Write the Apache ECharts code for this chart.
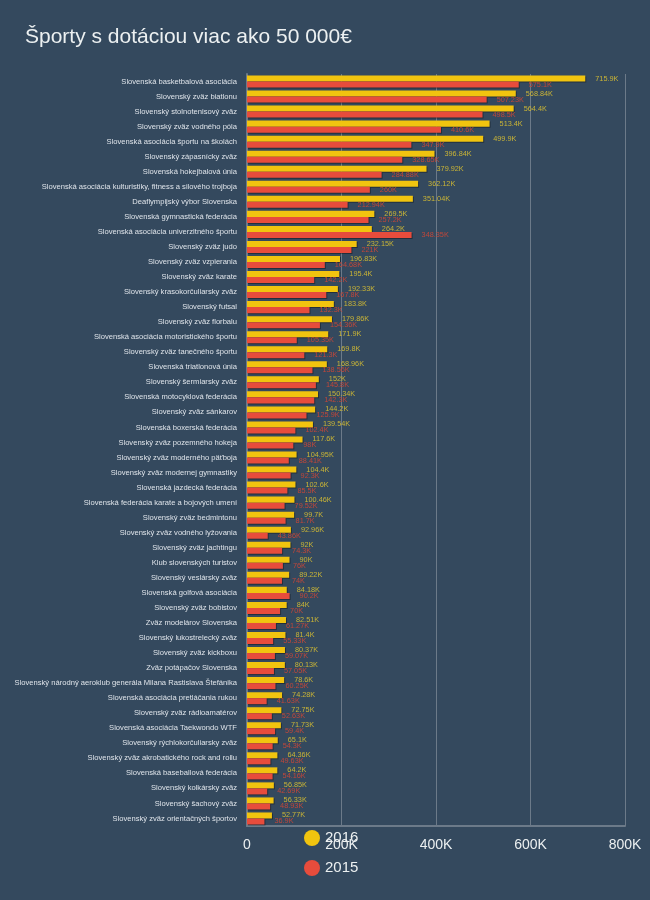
<!DOCTYPE html>
<html>
<head>
<meta charset="utf-8">
<script src="https://cdn.jsdelivr.net/npm/echarts@6/dist/echarts.min.js"></script>
<style>
  html, body { margin: 0; padding: 0; background: #34495e; }
  #chart { width: 650px; height: 900px; }
</style>
</head>
<body>
<div id="chart"></div>
<script>
// zväzy
const zvazy = [
  'Slovenská basketbalová asociácia',
  'Slovenský zväz biatlonu',
  'Slovenský stolnotenisový zväz',
  'Slovenský zväz vodného póla',
  'Slovenská asociácia športu na školách',
  'Slovenský zápasnícky zväz',
  'Slovenská hokejbalová únia',
  'Slovenská asociácia kulturistiky, fitness a silového trojboja',
  'Deaflympijský výbor Slovenska',
  'Slovenská gymnastická federácia',
  'Slovenská asociácia univerzitného športu',
  'Slovenský zväz judo',
  'Slovenský zväz vzpierania',
  'Slovenský zväz karate',
  'Slovenský krasokorčuliarsky zväz',
  'Slovenský futsal',
  'Slovenský zväz florbalu',
  'Slovenská asociácia motoristického športu',
  'Slovenský zväz tanečného športu',
  'Slovenská triatlonová únia',
  'Slovenský šermiarsky zväz',
  'Slovenská motocyklová federácia',
  'Slovenský zväz sánkarov',
  'Slovenská boxerská federácia',
  'Slovenský zväz pozemného hokeja',
  'Slovenský zväz moderného päťboja',
  'Slovenský zväz modernej gymnastiky',
  'Slovenská jazdecká federácia',
  'Slovenská federácia karate a bojových umení',
  'Slovenský zväz bedmintonu',
  'Slovenský zväz vodného lyžovania',
  'Slovenský zväz jachtingu',
  'Klub slovenských turistov',
  'Slovenský veslársky zväz',
  'Slovenská golfová asociácia',
  'Slovenský zväz bobistov',
  'Zväz modelárov Slovenska',
  'Slovenský lukostrelecký zväz',
  'Slovenský zväz kickboxu',
  'Zväz potápačov Slovenska',
  'Slovenský národný aeroklub generála Milana Rastislava Štefánika',
  'Slovenská asociácia pretláčania rukou',
  'Slovenský zväz rádioamatérov',
  'Slovenská asociácia Taekwondo WTF',
  'Slovenský rýchlokorčuliarsky zväz',
  'Slovenský zväz akrobatického rock and rollu',
  'Slovenská baseballová federácia',
  'Slovenský kolkársky zväz',
  'Slovenský šachový zväz',
  'Slovenský zväz orientačných športov'
];

// dotácie v tisícoch €
const rok2016 = [715.9, 568.84, 564.4, 513.4, 499.9, 396.84, 379.92, 362.12, 351.04, 269.5,
  264.2, 232.15, 196.83, 195.4, 192.33, 183.8, 179.86, 171.9, 169.8, 168.96,
  152, 150.34, 144.2, 139.54, 117.6, 104.95, 104.4, 102.6, 100.46, 99.7,
  92.96, 92, 90, 89.22, 84.18, 84, 82.51, 81.4, 80.37, 80.13,
  78.6, 74.28, 72.75, 71.73, 65.1, 64.36, 64.2, 56.85, 56.33, 52.77];
const rok2015 = [575.1, 507.23, 498.5, 410.6, 347.9, 328.65, 284.88, 260, 212.94, 257.2,
  348.35, 221, 164.68, 142.2, 167.8, 132.3, 154.36, 105.35, 121.3, 138.56,
  145.8, 142.3, 125.9, 102.4, 98, 88.41, 92.3, 85.5, 79.52, 81.7,
  43.86, 74.3, 76, 74, 90.2, 70, 61.27, 55.33, 59.07, 57.05,
  60.25, 41.63, 52.63, 59.4, 54.3, 49.63, 54.16, 42.69, 48.93, 36.9];

const xTicks = [0, 200, 400, 600, 800];

const fmtK = v => (v === 0 ? '0' : v + 'K');

let chart = echarts.init(document.getElementById('chart'));
chart.setOption({
  backgroundColor: '#34495e',
  textStyle: { fontFamily: 'Liberation Sans, Arial, sans-serif' },
  title: {
    text: 'Športy s dotáciou viac ako 50 000€',
    left: 20, top: 22,
    textStyle: { color: '#ecf0f1', fontSize: 21, fontWeight: 'normal' }
  },
  legend: {
    orient: 'vertical',
    left: 299, top: 825,
    icon: 'circle',
    itemWidth: 16, itemHeight: 16, itemGap: 14,
    textStyle: { color: '#ecf0f1', fontSize: 15 },
    data: ['2016', '2015']
  },
  grid: { left: 247, right: 25, top: 74, bottom: 74, containLabel: false },
  xAxis: {
    type: 'value',
    min: xTicks[0], max: xTicks[xTicks.length - 1], interval: 200,
    axisLine: { show: true, lineStyle: { color: '#6c7a89', width: 2 } },
    axisTick: { show: false },
    splitLine: { show: true, lineStyle: { color: '#6c7a89', width: 1 } },
    axisLabel: { color: '#ecf0f1', fontSize: 14, margin: 12, formatter: fmtK }
  },
  yAxis: {
    type: 'category',
    data: zvazy,
    inverse: true,
    axisLine: { show: true, lineStyle: { color: '#6c7a89', width: 2 } },
    axisTick: { show: false },
    axisLabel: { color: '#dfe4ea', fontSize: 7.6, margin: 10, interval: 0 }
  },
  series: [
    {
      name: '2016', type: 'bar', data: rok2016,
      barGap: '0%', barCategoryGap: '20%',
      itemStyle: { color: '#f1c40f', shadowColor: 'rgba(0,0,0,0.35)', shadowOffsetX: 1, shadowOffsetY: 1 },
      label: { show: true, position: 'right', distance: 10, color: '#c9b436', fontSize: 7.3, formatter: p => p.value + 'K' }
    },
    {
      name: '2015', type: 'bar', data: rok2015,
      barGap: '0%', barCategoryGap: '20%',
      itemStyle: { color: '#e74c3c', shadowColor: 'rgba(0,0,0,0.35)', shadowOffsetX: 1, shadowOffsetY: 1 },
      label: { show: true, position: 'right', distance: 10, color: '#c0473a', fontSize: 7.3, formatter: p => p.value + 'K' }
    }
  ]
});
</script>
</body>
</html>
